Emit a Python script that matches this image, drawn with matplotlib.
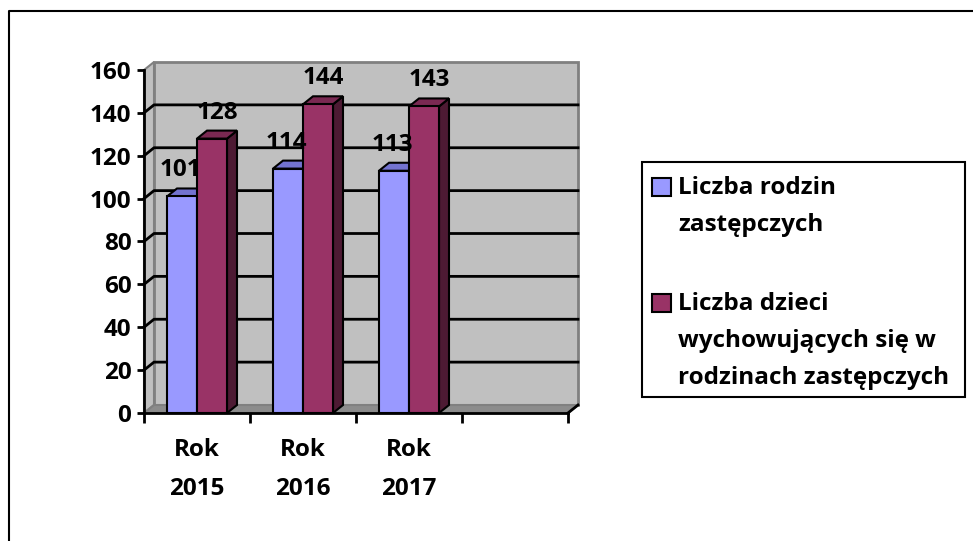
import numpy as np
import matplotlib.pyplot as plt
from matplotlib.patches import Polygon, Rectangle
from matplotlib.lines import Line2D

plt.rcParams['font.family'] = ['Open Sans', 'DejaVu Sans']
plt.rcParams['font.weight'] = 'bold'

# dane
kategorie = ['Rok\n2015', 'Rok\n2016', 'Rok\n2017']
rodziny = [101, 114, 113]
dzieci = [128, 144, 143]
serie = ['Liczba rodzin\nzastępczych', 'Liczba dzieci\nwychowujących się w\nrodzinach zastępczych']
kolory = ['#9999FF', '#993366']
kolory_gora = ['#7373D0', '#7A2952']
kolory_bok = ['#5C5C99', '#4D1A33']
y_ticks = [0, 20, 40, 60, 80, 100, 120, 140, 160]

W, H = 973, 541
FS = 17.5
fig = plt.figure(figsize=(W / 100, H / 100), dpi=100)

# os w pikselach: x 144..568, y 413..70 (od gory)
x_l, x_r, y_b, y_t = 144, 568, 413, 70
ax = fig.add_axes([x_l / W, (H - y_b) / H, (x_r - x_l) / W, (y_b - y_t) / H])
ax.set_xlim(0, 4)
ax.set_ylim(0, 160)
ax.patch.set_alpha(0)

# glebia 3D w jednostkach danych
px_x = (x_r - x_l) / 4
px_y = (y_b - y_t) / 160
DX = 10 / px_x
DY = 8 / px_y

szary = '#808080'
# sciana lewa, tylna, podloga
ax.add_patch(Polygon([(0, 0), (DX, DY), (DX, 160 + DY), (0, 160)], closed=True,
                     facecolor='#C0C0C0', edgecolor=szary, lw=1.5, clip_on=False, zorder=0))
ax.add_patch(Rectangle((DX, DY), 4, 160, facecolor='#C0C0C0', edgecolor=szary,
                       lw=2, clip_on=False, zorder=0))
ax.add_patch(Polygon([(0, 0), (4, 0), (4 + DX, DY), (DX, DY)], closed=True,
                     facecolor='#8C8C8C', edgecolor=szary, lw=1.5, clip_on=False, zorder=0.5))
ax.plot([4, 4 + DX], [0, DY], color='black', lw=2, clip_on=False, zorder=3)

# linie siatki
for v in y_ticks[1:-1]:
    ax.plot([0, DX, 4 + DX], [v, v + DY, v + DY], color='black', lw=2,
            clip_on=False, zorder=0.8)

# slupki 3D
szer = 30 / px_x
start = 23 / px_x
for j, wartosci in enumerate([rodziny, dzieci]):
    for i, v in enumerate(wartosci):
        x0 = i + start + j * szer
        ax.add_patch(Polygon([(x0 + szer, 0), (x0 + szer + DX, DY), (x0 + szer + DX, v + DY), (x0 + szer, v)],
                             closed=True, facecolor=kolory_bok[j], edgecolor='black', lw=1.5,
                             clip_on=False, zorder=2 + j))
        ax.add_patch(Polygon([(x0, v), (x0 + szer, v), (x0 + szer + DX, v + DY), (x0 + DX, v + DY)],
                             closed=True, facecolor=kolory_gora[j], edgecolor='black', lw=1.5,
                             clip_on=False, zorder=2 + j))
        ax.add_patch(Rectangle((x0, 0), szer, v, facecolor=kolory[j], edgecolor='black',
                               lw=1.5, clip_on=False, zorder=2 + j))
        ax.annotate(str(v), (x0 + szer / 2 + DX / 2, v + DY / 2),
                    xytext=(-7 if j == 0 else 0, 22), textcoords='offset pixels',
                    ha='center', va='center', fontsize=FS, fontweight='bold', zorder=5)

# osie
for s in ['top', 'right']:
    ax.spines[s].set_visible(False)
ax.spines['left'].set_linewidth(2)
ax.spines['bottom'].set_linewidth(2)
ax.spines['left'].set_zorder(4)
ax.spines['bottom'].set_zorder(4)
ax.set_yticks(y_ticks)
ax.tick_params(axis='y', length=5, width=2, pad=4, labelsize=FS)
ax.set_xticks([0, 1, 2, 3, 4])
ax.set_xticklabels([])
ax.tick_params(axis='x', which='major', length=7, width=2)
ax.set_xticks([0.5, 1.5, 2.5], minor=True)
ax.set_xticklabels(kategorie, minor=True, fontsize=FS, fontweight='bold', linespacing=1.85)
ax.tick_params(axis='x', which='minor', length=0, pad=18)
for t in ax.get_yticklabels():
    t.set_fontweight('bold')

# legenda
def fx(px):
    return px / W

def fy(py):
    return (H - py) / H

fig.add_artist(Rectangle((fx(642), fy(397)), fx(965) - fx(642), fy(162) - fy(397),
                         facecolor='white', edgecolor='black', lw=1.5))
for j, (nazwa, y0) in enumerate(zip(serie, [187, 303])):
    fig.add_artist(Rectangle((fx(652), fy(y0 + 9)), fx(671) - fx(652), fy(y0 - 9) - fy(y0 + 9),
                             facecolor=kolory[j], edgecolor='black', lw=1.5))
    fig.text(fx(678), fy(y0 - 11), nazwa, ha='left', va='top', fontsize=FS,
             fontweight='bold', linespacing=1.72)

# ramka
fig.add_artist(Line2D([fx(9), fx(9), fx(973)], [0, fy(11), fy(11)], color='black', lw=1.5))

fig.savefig('out.png', dpi=100)
